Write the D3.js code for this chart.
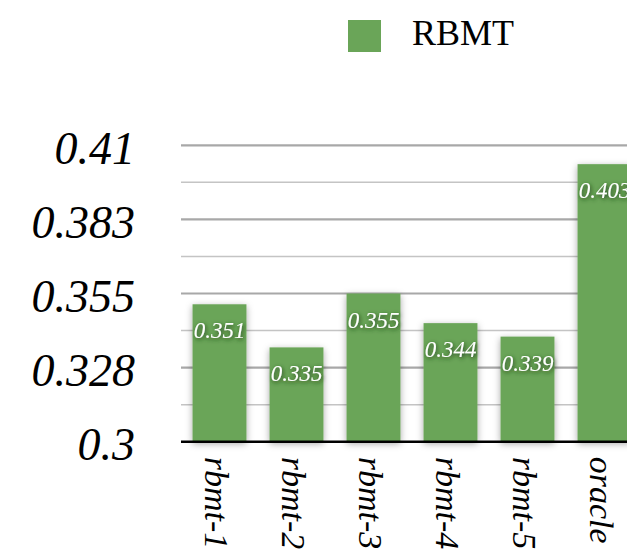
<!DOCTYPE html>
<html>
<head>
<meta charset="utf-8">
<script src="https://cdn.jsdelivr.net/npm/d3@7/dist/d3.min.js"></script>
<style>
  html, body { margin: 0; padding: 0; background: #fff; }
  svg { display: block; }
  text { font-family: "Liberation Serif", "Times New Roman", serif; }
</style>
</head>
<body>
<svg id="chart" width="627" height="560"></svg>
<script>
// Categories and RBMT scores
const categories = ["rbmt-1", "rbmt-2", "rbmt-3", "rbmt-4", "rbmt-5", "oracle"];
const rbmtValues = [0.351, 0.335, 0.355, 0.344, 0.339, 0.403];

// Axis ticks: labelled major steps plus unlabelled minor steps between them
const majorTicks = [0.3, 0.3275, 0.355, 0.3825, 0.41];
const majorTickLabels = ["0.3", "0.328", "0.355", "0.383", "0.41"];
const minorTicks = [0.31375, 0.34125, 0.36875, 0.39625];
const seriesName = "RBMT";

const svg = d3.select("#chart");
const W = 627, H = 560;
const plotLeft = 181, plotTop = 145.3, plotBottom = 441.7;
const step = 77;

const x = d3.scaleBand()
  .domain(categories)
  .range([plotLeft, plotLeft + step * categories.length])
  .paddingInner(0.3)
  .paddingOuter(0.15);

const y = d3.scaleLinear()
  .domain([0.3, 0.41])
  .range([plotBottom, plotTop]);

const green = "#6aa558";

// Filters: soft shadow under bars, dark halo behind bar values
const defs = svg.append("defs");
const barShadow = defs.append("filter").attr("id", "barShadow")
  .attr("x", "-30%").attr("y", "-30%").attr("width", "160%").attr("height", "160%");
barShadow.append("feDropShadow")
  .attr("dx", 0).attr("dy", 2).attr("stdDeviation", 3.5)
  .attr("flood-color", "#000").attr("flood-opacity", 0.35);
const textShadow = defs.append("filter").attr("id", "textShadow")
  .attr("x", "-20%").attr("y", "-40%").attr("width", "140%").attr("height", "180%");
textShadow.append("feDropShadow")
  .attr("dx", 1).attr("dy", 1.5).attr("stdDeviation", 2)
  .attr("flood-color", "#1d3a12").attr("flood-opacity", 1);

// Minor gridlines
svg.append("g").selectAll("line").data(minorTicks).join("line")
  .attr("x1", plotLeft).attr("x2", W)
  .attr("y1", d => y(d)).attr("y2", d => y(d))
  .attr("stroke", "#c4c4c4").attr("stroke-width", 1.5);

// Major gridlines
svg.append("g").selectAll("line").data(majorTicks.slice(1)).join("line")
  .attr("x1", plotLeft).attr("x2", W)
  .attr("y1", d => y(d)).attr("y2", d => y(d))
  .attr("stroke", "#a8a8a8").attr("stroke-width", 2.2);

// Bars
svg.append("g").selectAll("rect").data(rbmtValues).join("rect")
  .attr("x", (d, i) => x(categories[i]))
  .attr("width", x.bandwidth())
  .attr("y", d => y(d))
  .attr("height", d => y(0.3) - y(d))
  .attr("fill", green)
  .attr("filter", "url(#barShadow)");

// Baseline axis
svg.append("line")
  .attr("x1", plotLeft).attr("x2", W)
  .attr("y1", y(0.3)).attr("y2", y(0.3))
  .attr("stroke", "#000").attr("stroke-width", 2.5);

// Value labels inside the bar tops
svg.append("g").selectAll("text").data(rbmtValues).join("text")
  .attr("x", (d, i) => x(categories[i]) + x.bandwidth() / 2)
  .attr("y", d => y(d) + 34)
  .attr("text-anchor", "middle")
  .attr("font-size", 23)
  .attr("font-style", "italic")
  .attr("fill", "#fff")
  .attr("filter", "url(#textShadow)")
  .text(d => d3.format(".3f")(d));

// Y axis labels
const yAxis = d3.axisLeft(y)
  .tickValues(majorTicks)
  .tickFormat((d, i) => majorTickLabels[i])
  .tickSize(0)
  .tickPadding(0);
const gy = svg.append("g").attr("transform", "translate(135,0)").call(yAxis);
gy.select(".domain").remove();
gy.selectAll("text")
  .attr("font-family", "Liberation Serif, serif")
  .attr("font-size", 46)
  .attr("font-style", "italic")
  .attr("fill", "#000")
  .attr("dy", null)
  .attr("y", 18);

// X axis labels, rotated to read downward
const xAxis = d3.axisBottom(x).tickSize(0).tickPadding(0);
const gx = svg.append("g").attr("transform", `translate(0,${plotBottom})`).call(xAxis);
gx.select(".domain").remove();
gx.selectAll("text")
  .attr("font-family", "Liberation Serif, serif")
  .attr("font-size", 34)
  .attr("font-style", "italic")
  .attr("fill", "#000")
  .attr("text-anchor", "start")
  .attr("transform", "translate(0,15) rotate(90)")
  .attr("x", 0).attr("y", 0)
  .attr("dy", "0.42em");

// Legend
const legend = svg.append("g");
legend.append("rect")
  .attr("x", 348).attr("y", 20).attr("width", 33).attr("height", 32)
  .attr("fill", green);
legend.append("text")
  .attr("x", 412).attr("y", 45)
  .attr("font-size", 36)
  .attr("fill", "#000")
  .text(seriesName);
</script>
</body>
</html>
